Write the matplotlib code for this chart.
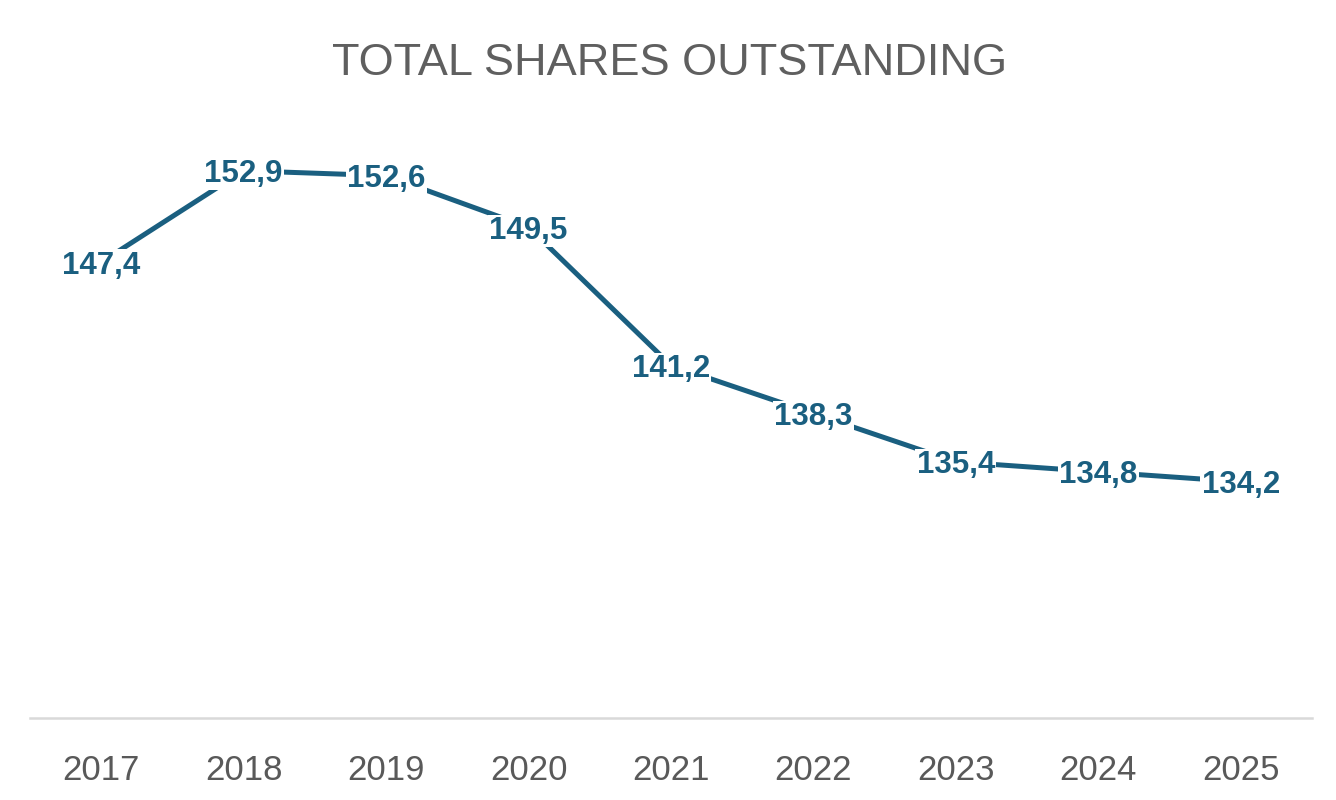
import matplotlib
matplotlib.use("Agg")
import matplotlib.pyplot as plt

years = ["2017", "2018", "2019", "2020", "2021", "2022", "2023", "2024", "2025"]
shares = [147.4, 152.9, 152.6, 149.5, 141.2, 138.3, 135.4, 134.8, 134.2]
title = "TOTAL SHARES OUTSTANDING"

line_color = "#1A5F80"
text_gray = "#595959"

fig = plt.figure(figsize=(13.36, 8.0), dpi=100)
ax = fig.add_axes([30 / 1336, (800 - 718) / 800, (1312 - 30) / 1336, (718 - 52.6) / 800])

x = list(range(len(years)))
ax.plot(x, shares, color=line_color, lw=3.6, solid_capstyle="butt", zorder=2)

for xi, v in zip(x, shares):
    ax.text(xi, v, f"{v:.1f}".replace(".", ","), ha="center", va="center_baseline",
            fontsize=22.5, fontweight="bold", color=line_color,
            family=["Liberation Sans", "DejaVu Sans"],
            bbox=dict(facecolor="white", edgecolor="none", pad=1.0), zorder=3)

ax.set_xlim(-0.5, len(years) - 0.5)
ax.set_ylim(120, 160)
ax.set_xticks(x)
ax.set_xticklabels(years, fontsize=25, color=text_gray, family=["Liberation Sans", "DejaVu Sans"])
ax.tick_params(axis="x", length=0, pad=26)
ax.set_yticks([])
for s in ["top", "right", "left"]:
    ax.spines[s].set_visible(False)
ax.spines["bottom"].set_color("#D9D9D9")
ax.spines["bottom"].set_linewidth(1.8)

fig.text(0.5015, 1 - 75 / 800, title, ha="center", va="baseline", fontsize=32.5,
         color="#5F5F5F", family=["Liberation Sans", "DejaVu Sans"])

fig.savefig("out.png", dpi=100, facecolor="white")
